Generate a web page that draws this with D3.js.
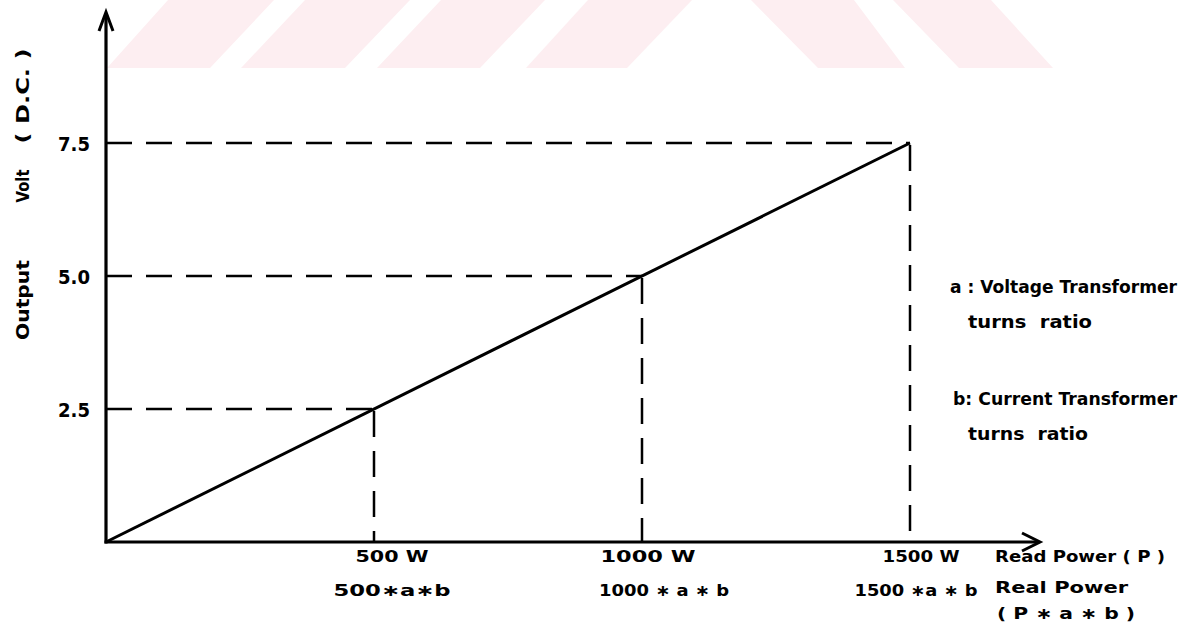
<!DOCTYPE html>
<html><head><meta charset="utf-8">
<script src="https://cdn.jsdelivr.net/npm/d3@7"></script>
<style>
body{margin:0;background:#fff}
svg{display:block}
text{font-family:"DejaVu Sans",sans-serif;font-weight:bold;fill:#000}
</style>
</head><body>
<svg id="c" width="1195" height="625"></svg>
<script>
// ---- data ----
const lineX = [0, 1500];
const lineY = [0, 7.5];
const refX = [500, 1000, 1500];
const refY = [2.5, 5.0, 7.5];
const yTickLabels = ["2.5", "5.0", "7.5"];
const xLabelsTop = ["500 W", "1000 W", "1500 W"];
const xLabelsBottom = ["500\u2217a\u2217b", "1000 \u2217 a \u2217 b", "1500 \u2217a \u2217 b"];
const xAxisTitle = ["Read  Power ( P )", "Real  Power", "( P \u2217 a \u2217 b )"];
const yAxisTitle = ["Output", "Volt", "( D.C. )"];
const notes = ["a : Voltage Transformer", "turns  ratio", "b: Current Transformer", "turns  ratio"];

// ---- layout ----
const svg = d3.select("#c");
const x = d3.scaleLinear().domain([0, 1500]).range([106, 910]);
const y = d3.scaleLinear().domain([0, 7.5]).range([542, 143]);

function fit(sel, w) {
  sel.attr("textLength", w).attr("lengthAdjust", "spacingAndGlyphs");
}

// faint watermark shapes
const marks = [
  [[168,0],[274,0],[210,68],[107,68]],
  [[305,0],[410,0],[345,68],[241,68]],
  [[441,0],[545,0],[480,68],[377,68]],
  [[588,0],[692,0],[627,68],[526,68]],
  [[751,0],[854,0],[905,68],[818,68]],
  [[893,0],[991,0],[1053,68],[959,68]]
];
svg.append("g").selectAll("polygon").data(marks).join("polygon")
  .attr("points", d => d.map(p => p.join(",")).join(" "))
  .attr("fill", "#fdeef1");

// dashed reference lines
const dash = "26,14";
svg.append("g").selectAll("line").data(refY).join("line")
  .attr("x1", x(0)).attr("x2", (d, i) => x(refX[i]))
  .attr("y1", d => y(d)).attr("y2", d => y(d))
  .attr("stroke", "#000").attr("stroke-width", 2.5).attr("stroke-dasharray", dash);
svg.append("g").selectAll("line").data(refX).join("line")
  .attr("x1", d => x(d)).attr("x2", d => x(d))
  .attr("y1", (d, i) => y(refY[i]) + 2).attr("y2", y(0))
  .attr("stroke", "#000").attr("stroke-width", 2.5).attr("stroke-dasharray", dash);

// main line
svg.append("path")
  .datum(lineX.map((d, i) => [d, lineY[i]]))
  .attr("d", d3.line().x(d => x(d[0])).y(d => y(d[1])))
  .attr("fill", "none").attr("stroke", "#000").attr("stroke-width", 3);

// axes lines + arrows
svg.append("line").attr("x1", x(0)).attr("x2", x(0)).attr("y1", y(0) + 1.5).attr("y2", 13)
  .attr("stroke", "#000").attr("stroke-width", 3.2);
svg.append("path").attr("d", `M${x(0) - 7},31 L${x(0)},12 L${x(0) + 7},31`)
  .attr("fill", "none").attr("stroke", "#000").attr("stroke-width", 3);
svg.append("line").attr("x1", x(0) - 1.5).attr("x2", 1038).attr("y1", y(0)).attr("y2", y(0))
  .attr("stroke", "#000").attr("stroke-width", 3.2);
svg.append("path").attr("d", `M1022,533 L1040,${y(0)} L1022,551`)
  .attr("fill", "none").attr("stroke", "#000").attr("stroke-width", 3);

// y tick labels via axis
const ya = svg.append("g").attr("transform", `translate(${x(0)},0)`)
  .call(d3.axisLeft(y).tickValues(refY).tickFormat((d, i) => yTickLabels[i]).tickSize(0).tickPadding(16));
ya.select(".domain").remove();
ya.selectAll("text").attr("font-size", 20).attr("font-family", "DejaVu Sans").attr("font-weight", "bold").attr("dy", "0.36em");
fit(ya.selectAll("text"), 32);

// x labels
const topDx = [18, 6, 11], botDx = [18, 22, 6];
const topW = [73, 95, 77], botW = [117, 130, 123];
svg.append("g").selectAll("text").data(xLabelsTop).join("text")
  .attr("x", (d, i) => x(refX[i]) + topDx[i]).attr("y", 562)
  .attr("text-anchor", "middle").attr("font-size", 16).text(d => d)
  .each(function (d, i) { fit(d3.select(this), topW[i]); });
svg.append("g").selectAll("text").data(xLabelsBottom).join("text")
  .attr("x", (d, i) => x(refX[i]) + botDx[i]).attr("y", 596)
  .attr("text-anchor", "middle").attr("font-size", 16).text(d => d)
  .each(function (d, i) { fit(d3.select(this), botW[i]); });

// x axis title
const xtPos = [[995, 562, 170], [995, 593, 133], [997, 619, 138]];
svg.append("g").selectAll("text").data(xAxisTitle).join("text")
  .attr("x", (d, i) => xtPos[i][0]).attr("y", (d, i) => xtPos[i][1])
  .attr("font-size", 16).text(d => d)
  .each(function (d, i) { fit(d3.select(this), xtPos[i][2]); });

// y axis title
const ytPos = [[300, 80], [186, 33], [96, 95]];
svg.append("g").selectAll("text").data(yAxisTitle).join("text")
  .attr("transform", (d, i) => `translate(29,${ytPos[i][0]}) rotate(-90)`)
  .attr("text-anchor", "middle").attr("font-size", 18).text(d => d)
  .each(function (d, i) { fit(d3.select(this), ytPos[i][1]); });

// notes
const notePos = [[950, 293, 227], [968, 328, 124], [953, 405, 224], [968, 440, 120]];
svg.append("g").selectAll("text").data(notes).join("text")
  .attr("x", (d, i) => notePos[i][0]).attr("y", (d, i) => notePos[i][1])
  .attr("font-size", 17).attr("xml:space", "preserve").style("white-space", "pre").text(d => d)
  .each(function (d, i) { fit(d3.select(this), notePos[i][2]); });
</script>
</body></html>
